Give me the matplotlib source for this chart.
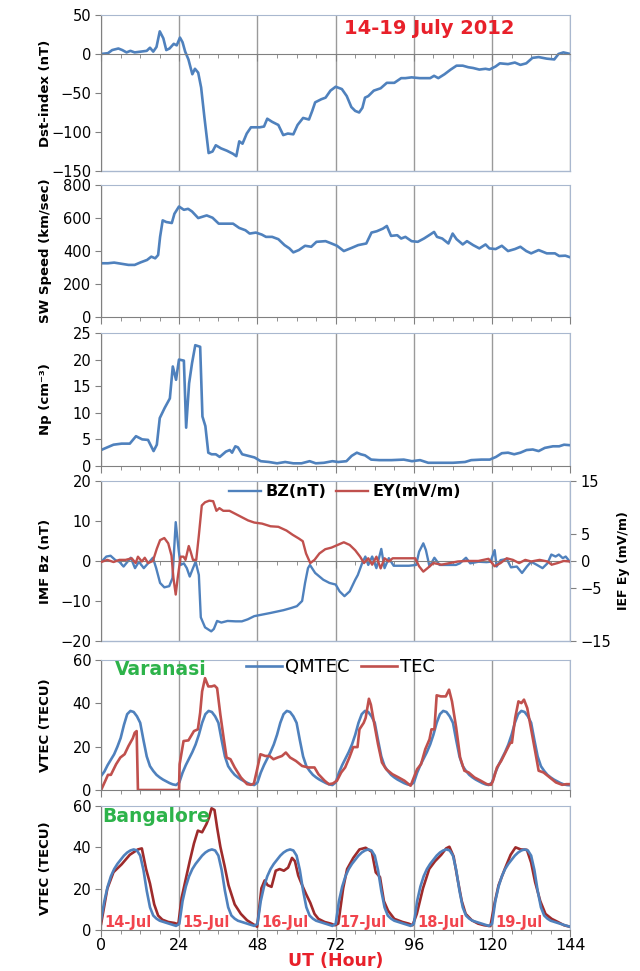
"""Storm-time overview, 14-19 July 2012: Dst, solar wind, IMF and VTEC panels."""
import numpy as np
import matplotlib
matplotlib.use("Agg")
import matplotlib.pyplot as plt
from matplotlib.ticker import MultipleLocator

plt.rcParams["font.family"] = ["DejaVu Sans"]

# ---- Dst index (nT) ----
dst_t = [0, 2.1, 3.4, 5.3, 6.5, 7.8, 9, 10.3, 12.2, 14, 15, 16, 17, 18, 19.1, 20, 21, 22.3, 23.2,
         24.2, 25, 25.8, 26.8, 28, 28.8, 29.8, 30.7, 31.7, 33, 34.2, 35.2, 36.8, 38.6, 40.5, 41.5,
         42.4, 43.4, 44.7, 46, 48.7, 50, 51, 52.5, 54.4, 55.9, 57.3, 59, 60.3, 62, 63.8, 64.8,
         65.7, 67.6, 68.9, 70.4, 72, 73.9, 75.4, 76.8, 78, 79.2, 80.2, 81, 82, 83.7, 85.8, 87.7,
         90, 92.1, 93.4, 95.3, 97.8, 101, 102.2, 103.5, 105.4, 107.3, 109.1, 111, 112.7, 114.2,
         116.1, 118, 119.2, 121.1, 122.4, 124.9, 127, 128.7, 130.5, 132.4, 134.3, 136.8, 139.1,
         140.4, 141.9, 144]
dst_v = [0, 1, 5, 7, 5, 2, 4, 2, 3, 4, 8, 3, 9, 29, 20, 5, 7, 13, 11,
         21, 15, 3, -7, -26, -19, -24, -43, -81, -127, -125, -117, -121, -124, -128, -131,
         -112, -115, -102, -94, -94, -93, -83, -87, -91, -104, -102, -103, -91, -82, -84, -73,
         -62, -58, -56, -47, -42, -45, -54, -68, -73, -75, -69, -56, -54, -47, -44, -37,
         -37, -31, -31, -30, -31, -31, -28, -31, -26, -20, -15, -15, -17, -18,
         -20, -19, -20, -16, -12, -13, -11, -14, -12, -5, -4, -6, -7,
         0, 2, 0]

# ---- Solar wind speed (km/s) ----
sw_t = [0, 2.1, 4, 5.9, 8.4, 10.3, 12.2, 14.1, 15.4, 16.6, 17.5, 18.1, 18.9, 20, 21.7, 22.5, 23.9,
        25.4, 26.7, 27.9, 29.8, 32.4, 34.2, 36.1, 38.6, 40.5, 42.4, 44.3, 45.6, 47.5, 49.3, 50.6,
        52.5, 54.4, 56.3, 57.8, 59, 60.7, 62.6, 64.5, 66.1, 68.9, 70.7, 72.4, 74.5, 77, 78.9,
        81.4, 83, 84.6, 86.5, 87.7, 89, 90.9, 92.1, 93.4, 95.3, 97.2, 99.1, 101, 102.2, 103.1,
        104.7, 106.6, 107.9, 109.1, 111, 112.3, 114.2, 116.1, 118, 119.2, 121.1, 123, 124.9,
        127, 128.7, 130.5, 132, 134.3, 136.8, 139.3, 140.6, 142.5, 144]
sw_v = [326, 326, 330, 324, 316, 316, 332, 346, 366, 356, 376, 486, 586, 576, 570, 626, 670,
        650, 656, 640, 600, 616, 602, 566, 566, 566, 540, 526, 506, 512, 500, 486,
        486, 472, 436, 416, 392, 406, 432, 426, 456, 460, 446, 432, 400, 420, 436,
        446, 512, 520, 536, 552, 492, 496, 476, 486, 460, 456, 476, 500, 516, 486,
        476, 446, 506, 472, 440, 460, 436, 416, 440, 416, 412, 432, 400,
        412, 426, 400, 386, 406, 386, 386, 370, 372, 362]

# ---- Proton density (cm^-3) ----
np_t = [0, 1.5, 3.8, 6.3, 8.8, 10.7, 12.6, 14.4, 16.1, 17.1, 18, 19.5, 21.1, 22, 23, 23.9, 25.4,
        26.1, 27, 27.9, 28.9, 30.4, 31.1, 32, 32.9, 33.9, 35.2, 36.4, 38.3, 39.5, 40.2, 41.2,
        42, 43.3, 45.2, 47.1, 49, 51.5, 54, 56.5, 59, 61.5, 64, 65.9, 68.4, 71, 72.8, 75.3,
        76.9, 78.5, 79.7, 81, 82.9, 85.4, 89.1, 92.9, 95.4, 97.9, 100.4, 104.2, 108, 111.7,
        113.6, 116.7, 119.3, 121.2, 123, 124.9, 126.8, 128.7, 130.6, 132.5, 134.3, 136.2,
        138.7, 140.6, 142.1, 144]
np_v = [3.0, 3.4, 4.0, 4.2, 4.2, 5.6, 5.0, 4.9, 2.8, 4.0, 9.0, 10.9, 12.7, 18.7, 16.2, 20.0, 19.8,
        7.2, 15.5, 19.3, 22.7, 22.4, 9.3, 7.5, 2.5, 2.2, 2.2, 1.7, 2.7, 3.0, 2.5, 3.7,
        3.5, 2.2, 1.9, 1.6, 0.9, 0.75, 0.5, 0.75, 0.5, 0.5, 0.9, 0.5, 0.6, 0.9, 0.75, 0.9,
        1.9, 2.5, 2.2, 2.0, 1.2, 1.1, 1.1, 1.2, 0.9, 1.1, 0.6, 0.6, 0.6, 0.75,
        1.1, 1.2, 1.2, 1.7, 2.4, 2.5, 2.2, 2.5, 3.0, 3.1, 2.8, 3.4,
        3.7, 3.7, 4.0, 3.9]

# ---- IMF Bz (nT) ----
bz_t = [0, 1.6, 2.9, 4.4, 5.6, 6.9, 8.1, 9.1, 10.4, 11.6, 13.1, 14.4, 15.9, 16.9, 18.1, 19.4,
        20.9, 21.9, 22.9, 23.8, 24.4, 25.4, 26.3, 27.2, 28.2, 29, 30, 30.6, 31.9, 33.8, 34.6,
        35.6, 36.9, 38.8, 41.3, 43.2, 45, 47, 52, 56, 58.2, 60.1, 61.7, 62.6, 63.5, 64.1,
        65.7, 68.2, 70.1, 72, 73.2, 74.7, 76.3, 78, 78.8, 80.1, 81.1, 82, 83.2, 84.5, 86, 87,
        88.3, 89.8, 92, 94.5, 96.7, 97.6, 98.9, 99.7, 100.8, 102.3, 103.9, 105.8, 107.6, 108.9,
        110.1, 112, 113.3, 115.8, 118.3, 119.5, 120.8, 121.4, 122.6, 124.5, 125.8, 127.6,
        129.2, 130.7, 132, 133.8, 135.5, 137, 138.2, 139.5, 140.5, 141.7, 142.6, 144]
bz_v = [-0.3, 1.1, 1.3, 0.2, -0.2, -1.4, -0.2, 0.8, -1.8, -0.2, -1.8, -0.6, 0.8, -1.8, -5.5, -6.6,
        -6.3, -4.3, 9.7, 2.7, -1.0, -0.6, -1.8, -3.9, -1.8, -0.2, -3.5, -14.1, -16.6, -17.6, -17,
        -15, -15.4, -15, -15.1, -15.1, -14.6, -13.8, -13, -12.3, -11.8, -11.3, -10, -5.5, -1.8, -1.0,
        -3.0, -4.7, -5.5, -5.9, -7.6, -8.8, -7.6, -4.7, -3.5, -0.6, 1.1, -1.0, 1.1, -1.8, 3.0, -1.8,
        0.7, -1.2, -1.2, -1.2, -1.0, 2.3, 4.4, 2.7, -1.4, 0.8, -1.0, -1.0, -1.0, -1.0,
        -0.6, 0.8, -0.6, -0.2, -0.3, -0.2, 2.7, -1.4, 0.2, 0.5, -1.6, -1.4,
        -3.0, -1.4, -0.2, -1.0, -1.8, -0.6, 1.6, 1.1, 1.6, 0.7, 1.1, -0.3]

# ---- IEF Ey (mV/m) ----
ey_t = [0, 1.9, 3.8, 5.6, 7.5, 9.4, 10.6, 11.3, 12.5, 13.4, 14.4, 15.9, 17.1, 18.1, 19.4, 20.6,
        21.6, 22.2, 22.9, 23.5, 24.4, 25.3, 25.9, 26.9, 27.5, 28.2, 29.2, 30, 30.9, 31.9, 33.2,
        34.4, 35.4, 36.3, 37.5, 39.4, 41.3, 43.2, 45.1, 47, 49.4, 52, 54.4, 56.9, 58.8, 60.7,
        61.9, 62.9, 64.2, 65.5, 67, 68.8, 70.7, 72.6, 74.5, 76.3, 78, 79.5, 80.7, 82, 83.2,
        84.5, 85.8, 87, 88.3, 89.5, 91.4, 94.5, 96.4, 97.6, 98.9, 100.1, 102, 104.5, 107,
        109.5, 112, 115.8, 118.9, 120.8, 122.6, 124.5, 126.4, 128.3, 130.2, 132, 134.6, 137,
        138.3, 140.1, 142, 144]
ey_v = [-0.2, 0.2, -0.2, 0.2, 0.2, 0.5, -0.4, 0.8, -0.1, 0.6, -0.4, 0, 2.3, 3.9, 4.3, 3.3,
        1.0, -3.2, -6.3, -3.2, 0.8, 0.8, 0.2, 2.8, 1.7, 0.2, 0.2, 4.8, 10.4, 11, 11.3,
        11.2, 9.4, 9.9, 9.4, 9.4, 8.8, 8.2, 7.6, 7.2, 7.0, 6.5, 6.4, 5.7, 4.9, 4.2,
        3.7, 1.4, -0.4, 0.2, 1.4, 2.2, 2.5, 3.0, 3.5, 3.0, 2.0, 0.8, -0.4, 0.5, -0.7,
        0.8, -1.4, 0.5, -0.1, 0.5, 0.5, 0.5, 0.5, -1.0, -2.0, -1.4, -0.4, -0.7, -0.4,
        -0.1, 0, 0, 0.4, -1.0, -0.4, 0.5, 0.2, -0.4, 0.2, -0.1, 0.2, -0.1,
        -0.7, -0.4, 0, -0.1]

# ---- Varanasi VTEC (TECU): quiet-mean (hourly, one row per day) and observed ----
var_qm_days = [
    [6.5, 8.5, 11.5, 14, 16.5, 20, 24, 30, 35, 36.5, 36, 34, 31, 23, 15.5, 11, 8.8, 7, 5.8, 4.8, 4, 3.2, 2.6, 2.3],
    [3.5, 8, 11.5, 14.5, 17.5, 21, 25.5, 31, 35, 36.5, 36, 34, 31, 23, 15.5, 11, 8.8, 7, 5.8, 4.8, 4, 3.2, 2.6, 2.3],
    [3.5, 8, 11.5, 14.5, 17.5, 21, 25.5, 31, 35, 36.5, 36, 34, 31, 23, 15.5, 11, 8.8, 7, 5.8, 4.8, 4, 3.2, 2.6, 2.3],
    [3.5, 8, 11.5, 14.5, 17.5, 21, 25.5, 31, 35, 36.5, 36, 34, 31, 23, 15.5, 11, 8.8, 7, 5.8, 4.8, 4, 3.2, 2.6, 2.3],
    [3.5, 8, 11.5, 14.5, 17.5, 21, 25.5, 31, 35, 36.5, 36, 34, 31, 23, 15.5, 11, 8.8, 7, 5.8, 4.8, 4, 3.2, 2.6, 2.3],
    [3.5, 8, 11.5, 14.5, 17.5, 21, 25.5, 31, 35, 36.5, 36, 34, 31, 23, 15.5, 11, 8.8, 7, 5.8, 4.8, 4, 3.2, 2.6, 2.3],
]
var_qm_end = 2.2
var_t = [0, 1.3, 2.1, 3, 4.6, 5.9, 7.2, 8.4, 9.7, 10.3, 10.9, 11.3, 23.9,
         24.1, 25.3, 26.8, 28.5, 29.7, 30.4, 31, 31.9, 32.9, 33.9, 34.8, 35.6, 36.6, 37.6, 38.5,
         39.7, 41, 42.9, 44.8, 46, 46.9,
         47.9, 48.9, 50.4, 51.7, 52.9, 54.2, 55.5, 56.7, 58, 59.8, 61.7, 63.6, 65.5, 66.7, 68.6,
         69.9, 71.1,
         72.4, 73.7, 74.9, 76.2, 77.4, 78.7, 79.3, 80.6, 81.2, 82.2, 82.8, 83.7, 85, 86.2, 87.5,
         89.4, 91.3, 93.1, 94.4, 95,
         96, 97, 98.2, 99.5, 100.8, 101.4, 102.3, 103, 104.3, 105.8, 106.8, 107.7, 109, 110.2,
         111.5, 112.8, 114.6, 116.5, 118.4, 119.7, 120.3,
         121.5, 122.8, 124.6, 125.6, 126.1, 127.1, 128.1, 129, 129.8, 130.8, 132.1, 133.3, 134.3,
         135.8, 137.7, 139.6, 141.5, 142.8, 143.7]
var_v = [0, 4.3, 7, 7, 11.9, 15, 16.5, 20.3, 23.8, 26.4, 27.2, 0, 0,
         11.9, 22.6, 22.9, 27.2, 28, 35.6, 45.5, 51.6, 47.8, 47.8, 48.2, 47, 34.8, 24.1, 15,
         14.2, 10.4, 5.8, 2.7, 2.4, 3,
         9.6, 16.5, 15.7, 15.7, 14.2, 15, 15.7, 17.3, 15, 13.4, 11.1, 10.4, 10.4, 7.3, 4.3,
         2.7, 3,
         4.3, 8.1, 10.4, 15, 19.8, 19.8, 28, 31, 33.3, 42.1, 39.4, 31.8, 21.1, 12.7, 9.6,
         7.3, 5.8, 4.3, 2.7, 2,
         5.8, 9.6, 11.9, 18.8, 23.4, 28, 28, 43.7, 43.2, 43.2, 46.3, 40.9, 28.7, 15,
         8.9, 8.1, 5.8, 4.3, 2.7, 2.4, 4.3,
         10.4, 13.4, 18.8, 21.8, 21.8, 33.3, 40.9, 40.1, 41.7, 37.8, 27.2, 17.3, 8.9,
         8.1, 5.8, 3.5, 2.4, 2.7, 2.7]

# ---- Bangalore VTEC (TECU) ----
ban_qm_days = [
    [5, 14, 21, 26, 29.5, 32, 34, 36, 37.5, 38.5, 39, 38.5, 36, 29, 19, 11, 7, 5.5, 4.5, 4, 3.5, 3, 2.5, 2],
    [3, 14, 21, 26, 29.5, 32, 34, 36, 37.5, 38.5, 39, 38.5, 36, 29, 19, 11, 7, 5.5, 4.5, 4, 3.5, 3, 2.5, 2],
    [3, 14, 21, 26, 29.5, 32, 34, 36, 37.5, 38.5, 39, 38.5, 36, 29, 19, 11, 7, 5.5, 4.5, 4, 3.5, 3, 2.5, 2],
    [3, 14, 21, 26, 29.5, 32, 34, 36, 37.5, 38.5, 39, 38.5, 36, 29, 19, 11, 7, 5.5, 4.5, 4, 3.5, 3, 2.5, 2],
    [3, 14, 21, 26, 29.5, 32, 34, 36, 37.5, 38.5, 39, 38.5, 36, 29, 19, 11, 7, 5.5, 4.5, 4, 3.5, 3, 2.5, 2],
    [3, 14, 21, 26, 29.5, 32, 34, 36, 37.5, 38.5, 39, 38.5, 36, 29, 19, 11, 7, 5.5, 4.5, 4, 3.5, 3, 2.5, 2],
]
ban_qm_end = 1.6
ban_t = [0, 1.9, 3.8, 6.3, 8.8, 11.3, 12.5, 13.8, 15, 16.3, 17.5, 18.8, 20.6, 22.5, 23.7,
         24.7, 26, 27.2, 28.5, 29.7, 31, 32.3, 33.1, 33.9, 34.8, 35.6, 36.6, 37.9, 39.1, 41,
         42.9, 44.8, 46.7, 47.9,
         49.2, 50.2, 51.1, 52.3, 53.6, 54.8, 56.1, 57.4, 58.6, 59.5, 60.5, 61.7, 63, 64.2,
         65.5, 66.7, 68.6, 70.5, 71.8, 72.8,
         74.3, 75.5, 77.4, 79.3, 81.2, 83.1, 84.3, 85.6, 86.8, 88.1, 90, 92.5, 94.4, 95.6,
         96.9, 98.8, 100.7, 102.5, 104.4, 105.9, 106.9, 108.2, 109.4, 110.7, 111.9, 113.8,
         115.7, 117.6, 119.5,
         120.7, 122, 123.9, 125.7, 127.2, 128.8, 130.7, 132, 133.2, 134.8, 136.4, 138.3,
         140.2, 142.1, 143.9]
ban_v = [3, 20, 28, 31.8, 36.4, 39, 39.5, 29.5, 22.5, 12.4, 7, 5, 3.9, 3.4, 2.8,
         15.5, 24.8, 33.3, 41.9, 48.1, 47.3, 51.2, 54.3, 58.9, 58.1, 49.6, 40.3, 31, 21.7, 12.4,
         7.8, 4.7, 2.8, 1.6,
         20.2, 24, 21.7, 20.9, 28.7, 29.5, 28.7, 30.2, 34.9, 33.3, 26.4, 21.7, 17.1, 13.2,
         7.8, 5.4, 3.9, 3.1, 2.3, 3.1,
         20.2, 29.5, 34.9, 39, 39.8, 37.8, 27.9, 25.6, 14, 9.3, 5.4, 3.9, 3.1, 2.3,
         7.8, 20.2, 29.5, 33.3, 36.4, 39.5, 40.3, 35.6, 24.8, 14, 7.8, 4.7,
         3.1, 2.3, 1.9,
         12.4, 21.7, 29.5, 36.4, 40, 39, 38.8, 32.6, 23.3, 14, 7.8, 5.4,
         3.9, 2.3, 1.6]

day_labels = ["14-Jul", "15-Jul", "16-Jul", "17-Jul", "18-Jul", "19-Jul"]

BLUE = "#4F81BD"
RED = "#C0504D"
DARKRED = "#9E2B2B"
GRID = "#9a9a9a"
BORDER = "#a9b8cf"


def qm_series(rows, end):
    vals = np.concatenate([np.array(r, float) for r in rows] + [[end]])
    return np.arange(len(vals)), vals


def style(ax, ylim, ystep, zero_axis=False):
    ax.set_xlim(0, 144)
    ax.set_ylim(*ylim)
    ax.yaxis.set_major_locator(MultipleLocator(ystep))
    ax.xaxis.set_major_locator(MultipleLocator(24))
    ax.xaxis.set_minor_locator(MultipleLocator(6))
    ax.grid(axis="x", which="major", color=GRID, lw=1.0)
    for s in ("top", "right"):
        ax.spines[s].set_color(BORDER)
    ax.spines["left"].set_color("#808080")
    ax.spines["bottom"].set_color("#808080")
    ax.tick_params(axis="y", direction="out", length=4, color="#808080", labelsize=10.5,
                   pad=3)
    ax.tick_params(axis="x", which="both", direction="out", color="#808080", labelsize=10.5)
    ax.tick_params(axis="x", which="major", length=5)
    ax.tick_params(axis="x", which="minor", length=3)
    if zero_axis:
        ax.spines["bottom"].set_position(("data", 0))
        ax.plot([0, 1], [0, 0], transform=ax.transAxes, color=BORDER, lw=1, clip_on=False)
    ax.tick_params(axis="x", labelbottom=False)
    ax.yaxis.set_label_coords(-0.105, 0.5)


fig = plt.figure(figsize=(6.4, 9.71), dpi=100)
L, W = 0.158, 0.733
pos = [(0.8239, 0.1607), (0.6735, 0.1359), (0.5201, 0.1370),
       (0.3399, 0.1648), (0.1864, 0.1339), (0.0422, 0.1277)]
axs = [fig.add_axes([L, b, W, h]) for b, h in pos]
lab = dict(fontsize=9.5, fontweight="bold")

# Dst
ax = axs[0]
ax.plot(dst_t, dst_v, color=BLUE, lw=1.9)
style(ax, (-150, 50), 50, zero_axis=True)
ax.set_ylabel("Dst-index (nT)", **lab)
ax.text(0.70, 0.91, "14-19 July 2012", transform=ax.transAxes, color="#E8202A",
        fontsize=14, fontweight="bold", ha="center", va="center")

# SW speed
ax = axs[1]
ax.plot(sw_t, sw_v, color=BLUE, lw=1.9)
style(ax, (0, 800), 200)
ax.set_ylabel("SW Speed (km/sec)", **lab)

# Np
ax = axs[2]
ax.plot(np_t, np_v, color=BLUE, lw=1.9)
style(ax, (0, 25), 5)
ax.set_ylabel("Np (cm⁻³)", **lab)

# IMF Bz / IEF Ey
ax = axs[3]
ax2 = ax.twinx()
ln1, = ax.plot(bz_t, bz_v, color=BLUE, lw=1.7, label="BZ(nT)")
ln2, = ax2.plot(ey_t, ey_v, color=RED, lw=1.7, label="EY(mV/m)")
style(ax, (-20, 20), 10, zero_axis=True)
ax2.set_ylim(-15, 15)
ax2.set_yticks([-15, -5, 0, 5, 15])
ax2.tick_params(axis="y", direction="out", length=4, color="#808080", labelsize=10.5)
for s in ax2.spines.values():
    s.set_visible(False)
ax2.spines["right"].set_visible(True)
ax2.spines["right"].set_color(BORDER)
ax.set_ylabel("IMF Bz (nT)", **lab)
ax2.set_ylabel("IEF Ey (mV/m)", fontsize=9, fontweight="bold")
ax2.yaxis.set_label_coords(1.1, 0.5)
ax.legend(handles=[ln1, ln2], loc="upper center", bbox_to_anchor=(0.52, 1.07), ncol=2,
          frameon=False, handlelength=2.0, columnspacing=0.6, handletextpad=0.3,
          prop=dict(size=11.5, weight="bold"))

# Varanasi
ax = axs[4]
qt, qv = qm_series(var_qm_days, var_qm_end)
ax.plot(qt, qv, color=BLUE, lw=1.9, label="QMTEC")
ax.plot(var_t, var_v, color=RED, lw=1.9, label="TEC")
style(ax, (0, 60), 20)
ax.set_ylabel("VTEC (TECU)", **lab)
ax.text(4.3, 55.5, "Varanasi", color="#2DB34A", fontsize=13.5, fontweight="bold",
        va="center", ha="left")
ax.legend(loc="upper center", bbox_to_anchor=(0.51, 1.14), ncol=2, frameon=False,
          handlelength=2.0, columnspacing=0.6, handletextpad=0.2, fontsize=13)

# Bangalore
ax = axs[5]
qt, qv = qm_series(ban_qm_days, ban_qm_end)
ax.plot(ban_t, ban_v, color=DARKRED, lw=1.9)
ax.plot(qt, qv, color=BLUE, lw=1.9)
style(ax, (0, 60), 20)
ax.set_ylabel("VTEC (TECU)", **lab)
ax.text(0.4, 55, "Bangalore", color="#2DB34A", fontsize=13.5, fontweight="bold",
        va="center", ha="left")
for i, d in enumerate(day_labels):
    ax.text(24 * i + 8.3, 3.8, d, color="#F0303A", fontsize=10.5, fontweight="bold",
            ha="center", va="center", alpha=0.9)
ax.tick_params(axis="x", labelbottom=True, labelsize=11.5, pad=1)
ax.set_xlabel("UT (Hour)", color="#E8202A", fontsize=12.5, fontweight="bold", labelpad=-1)

fig.savefig("out.png", dpi=100)
